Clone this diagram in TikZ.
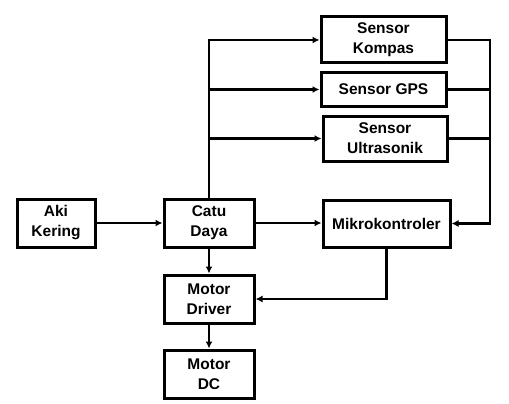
\documentclass[tikz,border=0pt]{standalone}
\usepackage{fontspec}
\setmainfont{Liberation Sans}
\usetikzlibrary{arrows.meta}
\begin{document}
\begin{tikzpicture}[x=1pt,y=-1pt,
  blk/.style={draw,line width=3pt,align=center,inner sep=0pt,
    font=\bfseries\fontsize{15.5}{20}\selectfont},
  conn/.style={line width=2.8pt},
  arr/.style={conn,-{Latex[length=7pt,width=7pt]}}]
\useasboundingbox (0,0) rectangle (509,404);
\node[blk,minimum width=125pt,minimum height=46pt] (kompas) at (383.5,40) {Sensor\\Kompas};
\node[blk,minimum width=125pt,minimum height=33pt] (gps) at (383.5,89.5) {Sensor GPS};
\node[blk,minimum width=124pt,minimum height=45pt] (ultra) at (385,138.5) {Sensor\\Ultrasonik};
\node[blk,minimum width=78pt,minimum height=48pt] (aki) at (56,223) {Aki\\Kering};
\node[blk,minimum width=90pt,minimum height=48pt] (catu) at (209,223) {Catu\\Daya};
\node[blk,minimum width=127pt,minimum height=47pt] (mikro) at (386.5,223.5) {Mikrokontroler};
\node[blk,minimum width=90pt,minimum height=48pt] (driver) at (209,299) {Motor\\Driver};
\node[blk,minimum width=90pt,minimum height=48pt] (dc) at (209,374) {Motor\\DC};
\coordinate (R) at (490,0);
% power trunk to sensors
\draw[arr] (catu.north) |- (kompas.west);
\draw[arr] (catu.north |- gps.west) -- (gps.west);
\draw[arr] (catu.north |- ultra.west) -- (ultra.west);
% sensors to microcontroller
\draw[arr] (kompas.east) -- (kompas.east -| R) |- (mikro.east);
\draw[conn] (gps.east) -- (gps.east -| R);
\draw[conn] (ultra.east) -- (ultra.east -| R);
% main chain
\draw[arr] (aki.east) -- (catu.west);
\draw[arr] (catu.east) -- (catu.east -| mikro.west);
\draw[arr] (catu.south) -- (driver.north);
\draw[arr] (mikro.south) |- (driver.east);
\draw[arr] (driver.south) -- (dc.north);
\end{tikzpicture}
\end{document}
